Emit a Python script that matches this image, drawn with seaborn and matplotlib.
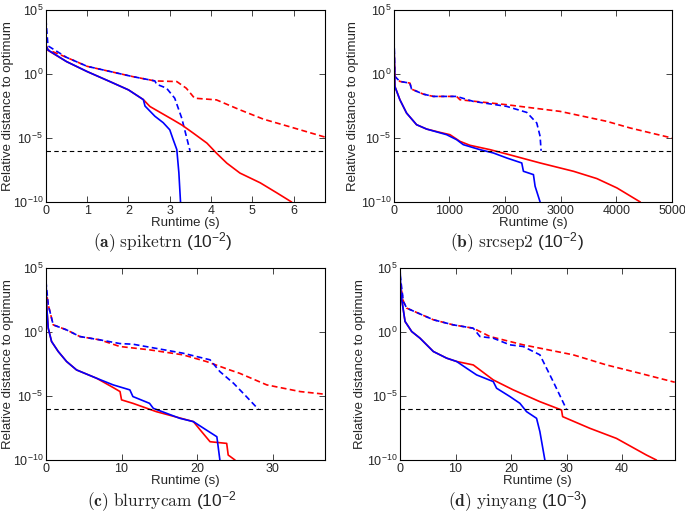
import numpy as np
import pandas as pd
import seaborn as sns
import matplotlib.pyplot as plt
from matplotlib.ticker import NullLocator

# Umbral de distancia relativa
threshold = 1e-6

# ---- (a) spiketrn ----  (y guardado como log10)
a_red_solid_x = [0, 0.05, 0.5, 1.0, 1.55, 2.0, 2.36, 2.52, 3.08, 3.3, 3.57, 3.9, 4.13, 4.38, 4.7, 5.19, 5.6, 5.95]
a_red_solid_y = [2.3, 1.85, 0.97, 0.19, -0.59, -1.24, -2.0, -2.54, -3.58, -4.0, -4.62, -5.4, -6.18, -6.96, -7.74, -8.5, -9.3, -10]
a_blue_solid_x = [0, 0.005, 0.05, 0.5, 1.0, 1.55, 2.0, 2.36, 2.4, 2.64, 2.84, 3.0, 3.08, 3.17, 3.22, 3.26]
a_blue_solid_y = [4.3, 2.2, 1.88, 0.97, 0.19, -0.59, -1.24, -2.0, -2.5, -3.3, -3.8, -4.36, -5.1, -5.9, -7.7, -10]
a_red_dash_x = [0, 0.05, 0.5, 1.0, 2.1, 2.64, 3.17, 3.4, 3.6, 4.13, 4.7, 5.27, 5.83, 6.76]
a_red_dash_y = [2.2, 1.9, 1.3, 0.6, -0.2, -0.54, -0.59, -1.11, -1.89, -2.02, -2.8, -3.53, -4.05, -4.93]
a_blue_dash_x = [0, 0.05, 0.5, 1.0, 2.1, 2.64, 2.68, 2.92, 3.12, 3.29, 3.49]
a_blue_dash_y = [4.3, 2.2, 1.3, 0.6, -0.2, -0.54, -0.8, -1.1, -1.89, -3.45, -6.0]

# ---- (b) srcsep2 ----
b_red_solid_x = [0, 18, 108, 228, 408, 588, 828, 1008, 1188, 1368, 1729, 2029, 2629, 3229, 3649, 4010, 4430]
b_red_solid_y = [3.0, -0.97, -2.01, -3.05, -3.96, -4.3, -4.56, -4.74, -5.26, -5.57, -5.91, -6.25, -6.95, -7.6, -8.17, -8.9, -10]
b_blue_solid_x = [0, 18, 108, 228, 408, 588, 948, 1128, 1248, 1548, 1789, 2029, 2299, 2329, 2509, 2539, 2629]
b_blue_solid_y = [3.44, -0.97, -2.01, -3.05, -3.96, -4.3, -4.74, -5.13, -5.52, -5.91, -6.17, -6.56, -6.95, -7.6, -7.86, -8.77, -10]
b_red_dash_x = [0, 18, 108, 288, 318, 528, 708, 1128, 1188, 2029, 2989, 3829, 4250, 5000]
b_red_dash_y = [1.5, -0.19, -0.58, -0.71, -1.18, -1.57, -1.75, -1.75, -2.01, -2.4, -2.92, -3.7, -4.22, -5.0]
b_blue_dash_x = [0, 18, 108, 288, 318, 528, 708, 1128, 1429, 2029, 2389, 2569, 2629, 2647]
b_blue_dash_y = [3.44, -0.19, -0.58, -0.71, -1.18, -1.57, -1.75, -1.75, -2.14, -2.53, -3.0, -3.83, -4.87, -6.0]

# ---- (c) blurrycam ----
c_red_solid_x = [0, 0.09, 0.31, 0.75, 1.63, 2.73, 4.05, 6.7, 8.9, 9.8, 10.0, 11.5, 14.6, 19.5, 20.4, 21.7, 23.9, 24.1, 25.0]
c_red_solid_y = [3.5, 2.13, 0.3, -0.74, -1.52, -2.3, -2.96, -3.61, -4.34, -4.65, -5.3, -5.57, -6.22, -7.0, -7.65, -8.57, -8.7, -9.61, -10]
c_blue_solid_x = [0, 0.09, 0.31, 0.75, 1.63, 2.73, 4.05, 6.7, 8.9, 11.1, 11.5, 13.7, 14.2, 17.7, 19.5, 21.2, 22.6, 23.0]
c_blue_solid_y = [4.87, 2.13, 0.3, -0.74, -1.52, -2.3, -2.96, -3.61, -4.13, -4.52, -5.04, -5.57, -5.96, -6.74, -7.0, -7.65, -8.18, -10]
c_red_dash_x = [0, 0.31, 0.97, 2.73, 4.49, 7.14, 9.78, 13.7, 18.1, 21.2, 24.3, 25.6, 29.2, 33.6, 36.9]
c_red_dash_y = [3.43, 2.13, 0.56, 0.17, -0.35, -0.61, -1.13, -1.39, -1.78, -2.3, -2.96, -3.22, -4.13, -4.65, -4.86]
c_blue_dash_x = [0, 0.31, 0.97, 2.73, 4.49, 7.14, 9.78, 11.5, 18.1, 21.7, 23.0, 24.8, 26.5, 28.1]
c_blue_dash_y = [4.0, 2.13, 0.56, 0.17, -0.35, -0.61, -0.9, -0.95, -1.65, -2.17, -3.09, -4.0, -5.04, -6.04]

# ---- (d) yinyang ----
d_red_solid_x = [0, 0.18, 0.9, 2.1, 3.6, 6.0, 8.4, 10.2, 13.2, 16.8, 20.4, 25.2, 29.1, 29.3, 34.2, 39.0, 44.4, 46.2]
d_red_solid_y = [4.0, 2.91, 0.83, 0.04, -0.48, -1.52, -2.04, -2.3, -2.57, -3.74, -4.52, -5.44, -6.09, -6.61, -7.52, -8.31, -9.61, -10]
d_blue_solid_x = [0, 0.18, 0.9, 2.1, 3.6, 6.0, 8.4, 10.2, 12.0, 13.8, 16.8, 17.4, 19.8, 21.6, 22.8, 24.6, 25.2, 26.1]
d_blue_solid_y = [5.0, 2.91, 0.83, 0.04, -0.48, -1.52, -2.04, -2.3, -2.83, -3.35, -3.87, -4.39, -5.04, -5.57, -6.22, -6.74, -7.78, -10]
d_red_dash_x = [0, 0.6, 1.2, 6.0, 9.6, 13.2, 16.2, 22.2, 31.2, 37.2, 43.2, 49.5]
d_red_dash_y = [3.96, 2.39, 1.87, 0.96, 0.56, 0.3, -0.35, -1.0, -1.78, -2.57, -3.22, -3.92]
d_blue_dash_x = [0, 0.6, 1.2, 6.0, 9.6, 13.2, 14.4, 16.8, 19.8, 22.2, 25.2, 27.6, 30.0]
d_blue_dash_y = [4.5, 2.39, 1.87, 0.96, 0.56, 0.3, -0.35, -0.48, -1.0, -1.13, -1.78, -3.87, -6.04]

panels = [
    dict(curves=[(a_red_dash_x, a_red_dash_y, 'red', 'dashed'), (a_blue_dash_x, a_blue_dash_y, 'blue', 'dashed'),
                 (a_red_solid_x, a_red_solid_y, 'red', 'solid'), (a_blue_solid_x, a_blue_solid_y, 'blue', 'solid')],
         xlim=(0, 6.76), xticks=[0, 1, 2, 3, 4, 5, 6], pos=[0.067, 0.607, 0.4075, 0.3735], ylab_x=-0.113,
         caption=r'$\mathbf{(a)}\ \mathrm{spiketrn}\ (10^{-2})$', cap_xy=(0.238, 0.528)),
    dict(curves=[(b_red_dash_x, b_red_dash_y, 'red', 'dashed'), (b_blue_dash_x, b_blue_dash_y, 'blue', 'dashed'),
                 (b_red_solid_x, b_red_solid_y, 'red', 'solid'), (b_blue_solid_x, b_blue_solid_y, 'blue', 'solid')],
         xlim=(0, 5000), xticks=[0, 1000, 2000, 3000, 4000, 5000], pos=[0.575, 0.607, 0.406, 0.3735], ylab_x=-0.126,
         caption=r'$\mathbf{(b)}\ \mathrm{srcsep2}\ (10^{-2})$', cap_xy=(0.754, 0.528)),
    dict(curves=[(c_red_dash_x, c_red_dash_y, 'red', 'dashed'), (c_blue_dash_x, c_blue_dash_y, 'blue', 'dashed'),
                 (c_red_solid_x, c_red_solid_y, 'red', 'solid'), (c_blue_solid_x, c_blue_solid_y, 'blue', 'solid')],
         xlim=(0, 36.9), xticks=[0, 10, 20, 30], pos=[0.067, 0.105, 0.4075, 0.3735], ylab_x=-0.113,
         caption=r'$\mathbf{(c)}\ \mathrm{blurrycam}\ (10^{-2}$', cap_xy=(0.236, 0.024)),
    dict(curves=[(d_red_dash_x, d_red_dash_y, 'red', 'dashed'), (d_blue_dash_x, d_blue_dash_y, 'blue', 'dashed'),
                 (d_red_solid_x, d_red_solid_y, 'red', 'solid'), (d_blue_solid_x, d_blue_solid_y, 'blue', 'solid')],
         xlim=(0, 49.5), xticks=[0, 10, 20, 30, 40], pos=[0.584, 0.105, 0.401, 0.3735], ylab_x=-0.124,
         caption=r'$\mathbf{(d)}\ \mathrm{yinyang}\ (10^{-3})$', cap_xy=(0.755, 0.024)),
]

sns.set_style("ticks")
plt.rcParams['font.family'] = ['Liberation Sans', 'DejaVu Sans']
plt.rcParams['mathtext.fontset'] = 'cm'
plt.rcParams['mathtext.default'] = 'regular'
plt.rcParams['xtick.direction'] = 'in'
plt.rcParams['ytick.direction'] = 'in'

fig = plt.figure(figsize=(6.85, 5.14), dpi=100)

for p in panels:
    ax = fig.add_axes(p['pos'])
    rows = []
    for i, (xs, ys, col, var) in enumerate(p['curves']):
        for x, y in zip(xs, ys):
            rows.append({'x': x, 'y': 10.0 ** y, 'solver': col, 'variant': var, 'curve': i})
    df = pd.DataFrame(rows)
    for i, sub in df.groupby('curve'):
        col = sub['solver'].iloc[0]
        var = sub['variant'].iloc[0]
        sns.lineplot(data=sub, x='x', y='y', ax=ax, color=col, lw=1.2, estimator=None, sort=False,
                     dashes=False, ls='--' if var == 'dashed' else '-')
        if var == 'dashed':
            ax.lines[-1].set_dashes((3.5, 2))
    ax.axhline(threshold, color='k', lw=0.8, ls='--', dashes=(4, 3))
    ax.set_yscale('log')
    ax.set_ylim(1e-10, 1e5)
    ax.set_yticks([1e-10, 1e-5, 1e0, 1e5])
    ax.yaxis.set_minor_locator(NullLocator())
    ax.set_xlim(*p['xlim'])
    ax.set_xticks(p['xticks'])
    ax.tick_params(which='both', top=True, right=True, labelsize=9, length=4, width=0.6, pad=2)
    for s in ax.spines.values():
        s.set_color('k')
        s.set_linewidth(0.8)
    ax.set_xlabel('Runtime (s)', fontsize=9.5, labelpad=0)
    ax.set_ylabel('Relative distance to optimum', fontsize=9.5)
    ax.yaxis.set_label_coords(p['ylab_x'], 0.5)
    fig.text(p['cap_xy'][0], p['cap_xy'][1], p['caption'], ha='center', va='center', fontsize=12.5)

fig.savefig('out.png', dpi=100)
